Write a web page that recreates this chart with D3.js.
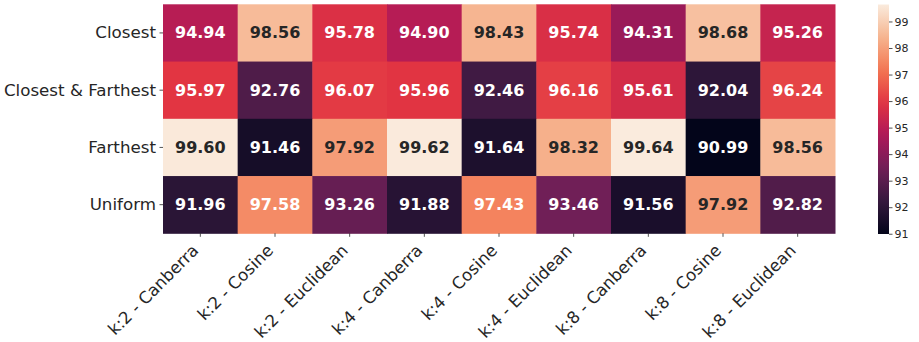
<!DOCTYPE html>
<html><head><meta charset="utf-8">
<script src="https://cdn.jsdelivr.net/npm/d3@7"></script>
<style>body{margin:0;background:#fff;}svg{display:block;font-family:"DejaVu Sans",sans-serif;}</style>
</head><body>
<svg id="c" width="919" height="342"></svg>
<script>
const rows = ["Closest", "Closest & Farthest", "Farthest", "Uniform"];
const cols = ["k:2 - Canberra","k:2 - Cosine","k:2 - Euclidean","k:4 - Canberra","k:4 - Cosine","k:4 - Euclidean","k:8 - Canberra","k:8 - Cosine","k:8 - Euclidean"];
const closest = [94.94, 98.56, 95.78, 94.90, 98.43, 95.74, 94.31, 98.68, 95.26];
const closestFarthest = [95.97, 92.76, 96.07, 95.96, 92.46, 96.16, 95.61, 92.04, 96.24];
const farthest = [99.60, 91.46, 97.92, 99.62, 91.64, 98.32, 99.64, 90.99, 98.56];
const uniform = [91.96, 97.58, 93.26, 91.88, 97.43, 93.46, 91.56, 97.92, 92.82];
const values = [closest, closestFarthest, farthest, uniform];
const cbTicks = [91,92,93,94,95,96,97,98,99];

const rocketStops = ["#03051a","#35193e","#701f57","#ad1759","#e13342","#f37651","#f6b48f","#faebdd"];
const rocket = d3.scaleLinear().domain(d3.range(rocketStops.length).map(i=>i/(rocketStops.length-1))).range(rocketStops).interpolate(d3.interpolateRgb);
const all = values.flat();
const vmin = d3.min(all), vmax = d3.max(all);
const norm = d3.scaleLinear().domain([vmin, vmax]).range([0,1]);
const color = v => rocket(norm(v));

function lum(c){
  const r = d3.rgb(c);
  const f = x => { x/=255; return x<=0.03928 ? x/12.92 : Math.pow((x+0.055)/1.055,2.4); };
  return 0.2126*f(r.r)+0.7152*f(r.g)+0.0722*f(r.b);
}

const svg = d3.select("#c");
const L=163, R=835, T=4.3, B=233.3;
const x = d3.scaleBand().domain(cols).range([L,R]);
const y = d3.scaleBand().domain(rows).range([T,B]);

const cells = [];
values.forEach((arr,i)=>arr.forEach((v,j)=>cells.push({r:rows[i],c:cols[j],v})));

svg.append("g").selectAll("rect").data(cells).join("rect")
  .attr("x",d=>x(d.c)).attr("y",d=>y(d.r))
  .attr("width",x.bandwidth()+0.5).attr("height",y.bandwidth()+0.5)
  .attr("fill",d=>color(d.v));

svg.append("g").selectAll("text").data(cells).join("text")
  .attr("x",d=>x(d.c)+x.bandwidth()/2).attr("y",d=>y(d.r)+y.bandwidth()/2)
  .attr("text-anchor","middle").attr("dominant-baseline","central")
  .attr("font-size",16).attr("font-weight","bold")
  .attr("fill",d=>lum(color(d.v))>0.408 ? "#262626" : "#ffffff")
  .text(d=>d.v.toFixed(2));

// y axis
const ya = svg.append("g").attr("transform",`translate(${L},0)`)
  .call(d3.axisLeft(y).tickSize(3.5).tickPadding(3.5));
ya.select(".domain").remove();
ya.selectAll("line").attr("stroke","#262626").attr("stroke-width",0.8);
ya.selectAll("text").attr("font-size",16.7).attr("fill","#262626").attr("font-family","DejaVu Sans");

// x axis
const xa = svg.append("g").attr("transform",`translate(0,${B})`)
  .call(d3.axisBottom(x).tickSize(3.5).tickPadding(3));
xa.select(".domain").remove();
xa.selectAll("line").attr("stroke","#262626").attr("stroke-width",0.8);
xa.selectAll("text").attr("font-size",16.7).attr("fill","#262626").attr("font-family","DejaVu Sans")
  .attr("text-anchor","end").attr("dy","0").attr("y",10)
  .attr("transform","translate(-5,4) rotate(-45,0,10) translate(0,6)");

// colorbar
const cbX=878, cbW=11, cbT=4.5, cbB=234;
const cy = d3.scaleLinear().domain([vmin,vmax]).range([cbB,cbT]);
const defs = svg.append("defs");
const grad = defs.append("linearGradient").attr("id","g").attr("x1",0).attr("y1",1).attr("x2",0).attr("y2",0);
d3.range(0,1.0001,0.05).forEach(t=>grad.append("stop").attr("offset",t).attr("stop-color",rocket(t)));
svg.append("rect").attr("x",cbX).attr("y",cbT).attr("width",cbW).attr("height",cbB-cbT).attr("fill","url(#g)");
const ca = svg.append("g").attr("transform",`translate(${cbX+cbW},0)`)
  .call(d3.axisRight(cy).tickValues(cbTicks).tickSize(3.5).tickPadding(2).tickFormat(d3.format("d")));
ca.select(".domain").remove();
ca.selectAll("line").attr("stroke","#262626").attr("stroke-width",0.8);
ca.selectAll("text").attr("font-size",11).attr("fill","#262626").attr("font-family","DejaVu Sans");
</script>
</body></html>
